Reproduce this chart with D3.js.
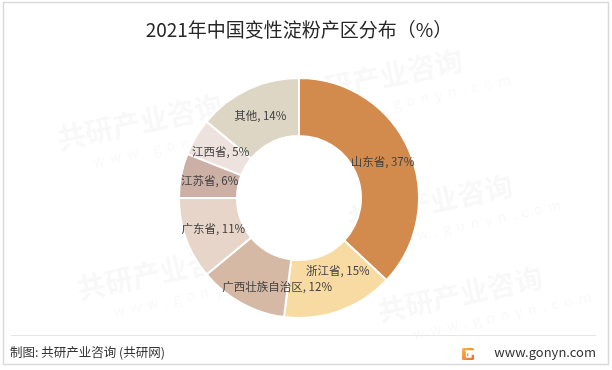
<!DOCTYPE html>
<html>
<head>
<meta charset="utf-8">
<script src="https://cdn.jsdelivr.net/npm/d3@7"></script>
<style>
  body { margin: 0; background: #fff; }
  text { font-family: "Noto Sans CJK SC", "Noto Sans", sans-serif; }
</style>
</head>
<body>
<script>
// data
var regions = ['山东省', '浙江省', '广西壮族自治区', '广东省', '江苏省', '江西省', '其他'];
var shares = [37, 15, 12, 11, 6, 5, 14];
var colours = ['#D38B4D', '#F8DBA3', '#D5B9A4', '#E6D5C8', '#CDB0A5', '#EEE2DE', '#DDD6C4'];

// label nudges where the original moved a label off the centroid
var nudge = { '浙江省': [8, -13], '广西壮族自治区': [22, 9] };

var width = 612, height = 370;
var cx = 299, cy = 198;
var outerR = 120, innerR = 62;

var svg = d3.select('body').append('svg')
  .attr('width', width)
  .attr('height', height);

// faint watermark, kept inside the frame
var wm = svg.append('g').attr('fill', '#000').attr('opacity', 0.03);
var wmPos = [[60, 150], [300, 105], [350, 230], [80, 300], [380, 322]];
wmPos.forEach(function (p) {
  var g = wm.append('g').attr('transform', 'translate(' + p[0] + ',' + p[1] + ') rotate(-12)');
  g.append('text').attr('font-size', 28).attr('font-weight', 'bold').text('共研产业咨询');
  g.append('text').attr('y', 24).attr('x', 30).attr('font-size', 14)
    .attr('letter-spacing', 6).text('www.gonyn.com');
});

// frame
svg.append('rect')
  .attr('x', 3.5).attr('y', 2.5)
  .attr('width', 605).attr('height', 362)
  .attr('fill', 'none').attr('stroke', '#d9d9d9').attr('stroke-width', 1.5);

svg.append('text')
  .attr('x', 299).attr('y', 37)
  .attr('text-anchor', 'middle')
  .attr('font-size', 19)
  .attr('fill', '#262626')
  .text('2021年中国变性淀粉产区分布（%）');

var pie = d3.pie().sort(null).value(function (d) { return d; });
var arc = d3.arc().innerRadius(innerR).outerRadius(outerR);
var labelArc = d3.arc().innerRadius(91).outerRadius(91);

var arcs = pie(shares);
var chart = svg.append('g').attr('transform', 'translate(' + cx + ',' + cy + ')');

chart.selectAll('path')
  .data(arcs)
  .enter()
  .append('path')
    .attr('d', arc)
    .attr('fill', function (d, i) { return colours[i]; })
    .attr('stroke', '#fff')
    .attr('stroke-width', 2);

chart.selectAll('text.lbl')
  .data(arcs)
  .enter()
  .append('text')
    .attr('class', 'lbl')
    .attr('transform', function (d, i) {
      var c = labelArc.centroid(d);
      var n = nudge[regions[i]] || [0, 0];
      return 'translate(' + (c[0] + n[0]) + ',' + (c[1] + n[1]) + ')';
    })
    .attr('text-anchor', 'middle')
    .attr('dy', '0.35em')
    .attr('font-size', 11.5)
    .attr('fill', '#404040')
    .text(function (d, i) { return regions[i] + ', ' + shares[i] + '%'; });

// footer
svg.append('line')
  .attr('x1', 11).attr('x2', 596)
  .attr('y1', 335.5).attr('y2', 335.5)
  .attr('stroke', '#e6e6e6');

svg.append('text')
  .attr('x', 10).attr('y', 357)
  .attr('font-size', 12.5)
  .attr('fill', '#333')
  .text('制图: 共研产业咨询 (共研网)');

svg.append('text')
  .attr('x', 596).attr('y', 357)
  .attr('text-anchor', 'end')
  .attr('font-size', 13)
  .attr('fill', '#333')
  .attr('font-family', 'Roboto, "Noto Sans", sans-serif')
  .text('www.gonyn.com');

var grad = svg.append('defs').append('linearGradient')
  .attr('id', 'logo').attr('x1', 0).attr('y1', 0).attr('x2', 1).attr('y2', 1);
grad.append('stop').attr('offset', 0).attr('stop-color', '#FFB347');
grad.append('stop').attr('offset', 1).attr('stop-color', '#F26B2B');

svg.append('rect')
  .attr('x', 462).attr('y', 348)
  .attr('width', 12).attr('height', 12)
  .attr('rx', 1.5)
  .attr('fill', 'url(#logo)');
svg.append('path')
  .attr('d', 'M465,351 H474 V352.5 H466.5 V357 H471 V355.5 H469 V354 H474')
  .attr('fill', 'none').attr('stroke', '#fff').attr('stroke-width', 1.3);
</script>
</body>
</html>
